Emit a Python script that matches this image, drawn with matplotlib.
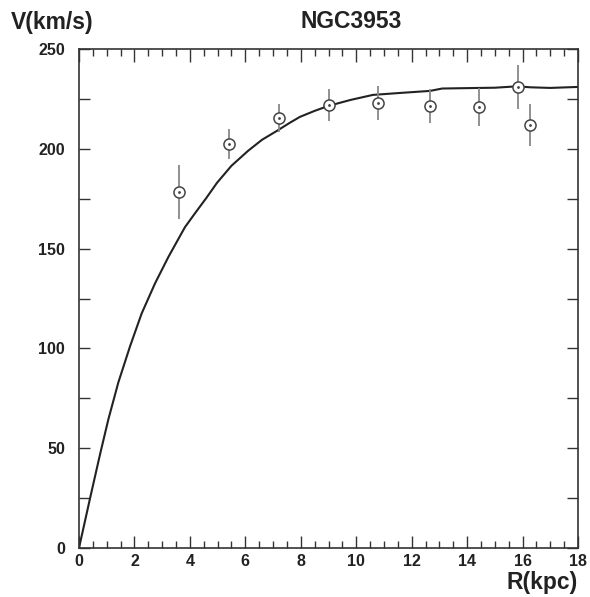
import matplotlib
matplotlib.use("Agg")
import matplotlib.pyplot as plt
from matplotlib.ticker import MultipleLocator

plt.rcParams["font.family"] = ["Liberation Sans", "DejaVu Sans"]

# observed rotation velocities
r_obs = [3.6, 5.4, 7.2, 9.0, 10.8, 12.65, 14.42, 15.84, 16.27]
v_obs = [178.5, 202.5, 215.5, 222, 223, 221.5, 221, 231, 212]
v_err = [13.5, 7.5, 7, 8, 8.5, 8.5, 9.5, 11, 10.5]

# model curve
r_model = [0, 0.40, 0.76, 1.06, 1.42, 1.84, 2.26, 2.74, 3.22, 3.82, 4.2, 4.6,
           4.98, 5.5, 6.1, 6.6, 7.14, 7.6, 7.97, 8.5, 9.0, 9.8, 10.6, 11.6,
           12.66, 13.1, 14.47, 15.0, 15.8, 16.3, 17.0, 18.0]
v_model = [0, 25, 47, 64.5, 83, 101, 117.5, 132.5, 145.7, 160.7, 168, 175.5,
           183, 191.5, 199, 204.5, 209, 213, 216, 219, 221.5, 224.5, 227, 228,
           229, 230.2, 230.5, 230.6, 231.3, 230.8, 230.5, 231]

fig = plt.figure(figsize=(5.9, 5.97), dpi=100)
ax = fig.add_axes([79 / 590, 49 / 597, 499 / 590, 499 / 597])

ax.plot(r_model, v_model, color="#222222", lw=1.5, zorder=2)
ax.errorbar(r_obs, v_obs, yerr=v_err, fmt="none", ecolor="#888888",
            elinewidth=1.3, capsize=0, zorder=3)
ax.plot(r_obs, v_obs, "o", ms=8, mfc="white", mec="#444444", mew=1.1, zorder=4)
ax.plot(r_obs, v_obs, ".", ms=2, color="#444444", zorder=5)

ax.set_xlim(0, 18)
ax.set_ylim(0, 250)
ax.xaxis.set_major_locator(MultipleLocator(2))
ax.xaxis.set_minor_locator(MultipleLocator(0.5))
ax.yaxis.set_major_locator(MultipleLocator(50))
ax.yaxis.set_minor_locator(MultipleLocator(25))

ax.tick_params(which="both", direction="in", top=True, right=True,
               color="#333333", width=1)
ax.tick_params(axis="x", which="major", length=9, pad=4)
ax.tick_params(axis="x", which="minor", length=5)
ax.tick_params(axis="y", which="major", length=8, pad=10)
ax.tick_params(axis="y", which="minor", length=8)
for lab in ax.get_xticklabels() + ax.get_yticklabels():
    lab.set_fontweight("bold")
    lab.set_fontsize(11.5)
    lab.set_color("#222222")
for sp in ax.spines.values():
    sp.set_linewidth(1.2)
    sp.set_color("#333333")

fig.text(11 / 590, 1 - 22 / 597, "V(km/s)", fontsize=16.5, fontweight="bold",
         ha="left", va="center", color="#222222")
fig.text(351 / 590, 1 - 22 / 597, "NGC3953", fontsize=16.5, fontweight="bold",
         ha="center", va="center", color="#222222")
fig.text(578 / 590, 1 - 583 / 597, "R(kpc)", fontsize=16.5, fontweight="bold",
         ha="right", va="center", color="#222222")

fig.savefig("out.png", dpi=100)
